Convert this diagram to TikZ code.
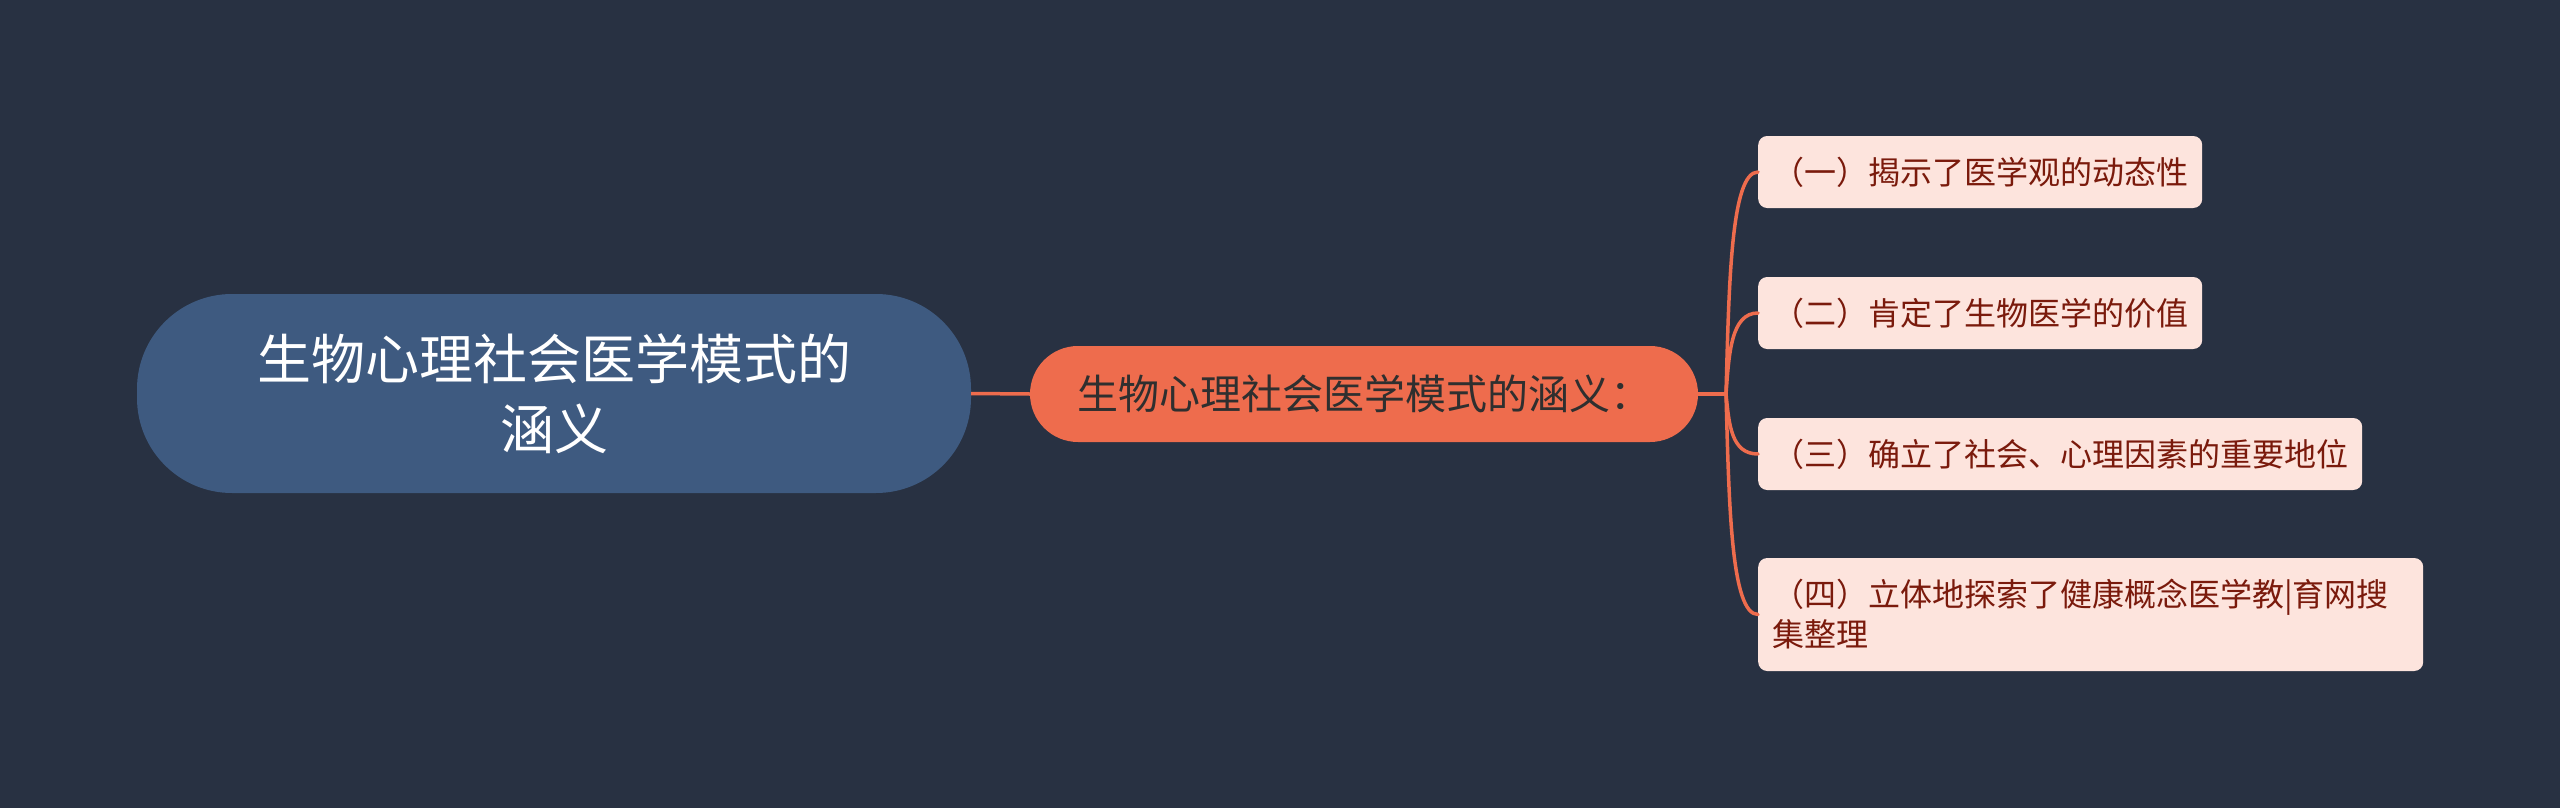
\documentclass[tikz,border=0pt]{standalone}
\usepackage{fontspec}
\setmainfont{Noto Sans CJK SC}
\usetikzlibrary{calc}
\definecolor{bgc}{HTML}{283142}
\definecolor{rootc}{HTML}{3E5A80}
\definecolor{orc}{HTML}{EE6C4D}
\definecolor{leafc}{HTML}{FDE4DD}
\definecolor{leaftxt}{HTML}{7A1A0C}
\definecolor{midtxt}{HTML}{2F2F2F}
\begin{document}
\begin{tikzpicture}[x=1pt,y=-1pt,
  rootbox/.style={fill=rootc, text=white, rounded corners=95pt, minimum width=834pt, minimum height=199pt, align=center, inner sep=0pt, font=\fontsize{54}{70}\selectfont},
  midbox/.style={fill=orc, text=midtxt, rounded corners=48pt, minimum width=668pt, minimum height=96pt, inner sep=0pt, font=\fontsize{41}{50}\selectfont},
  leafbox/.style={fill=leafc, text=leaftxt, rounded corners=9pt, anchor=west, minimum height=72pt, inner xsep=14pt, inner ysep=0pt, align=left, font=\fontsize{32}{40}\selectfont},
  link/.style={draw=orc, line width=3.5pt}
]
\fill[bgc] (0,0) rectangle (2560,808);
\useasboundingbox (0,0) rectangle (2560,808);

\node[rootbox] (root) at (554,393.5) {生物心理社会医学模式的\\涵义};
\node[midbox] (mid) at (1364,394) {生物心理社会医学模式的涵义：};

\node[leafbox] (l1) at (1758,172) {（一）揭示了医学观的动态性};
\node[leafbox] (l2) at (1758,313) {（二）肯定了生物医学的价值};
\node[leafbox] (l3) at (1758,454) {（三）确立了社会、心理因素的重要地位};
\node[leafbox, minimum height=113pt, text width=637pt] (l4) at (1758,614.5) {（四）立体地探索了健康概念医学教|育网搜\\集整理};

\coordinate (spine) at (1726,394);
\draw[link] (root.east) -- (mid.west);
\draw[link] (mid.east) -- (spine);
\foreach \n in {l1,l2,l3,l4}{
  \draw[link, line cap=round] (spine) .. controls ($(spine)!0.5!(spine|-\n.west)+(3,0)$) and ($(spine|-\n.west)+(5,0)$) .. (\n.west);
}
\end{tikzpicture}
\end{document}
